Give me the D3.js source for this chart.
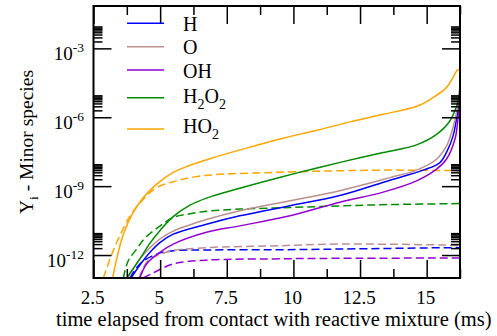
<!DOCTYPE html>
<html>
<head>
<meta charset="utf-8">
<script src="https://cdn.jsdelivr.net/npm/d3@7"></script>
<style>
  body { margin: 0; background: #fff; }
  svg text { font-family: "Liberation Serif", "DejaVu Serif", serif; fill: #000; }
</style>
</head>
<body>
<svg id="chart" width="497" height="336" style="font-family: 'Liberation Serif', 'DejaVu Serif', serif"></svg>
<script>
// minor species mass fraction vs time (ms)
// solid = one case, dashed = the other; pairs are [time, Y]
const speciesNames = ["H", "O", "OH", "H2O2", "HO2"];
const speciesColors = ["#0000ff", "#bc8f8f", "#9400d3", "#008b00", "#ffa500"];

const H_solid = [[3.91,1e-13],[4.24,3.7e-13],[4.62,1.32e-12],[4.99,3.5e-12],[5.49,8.1e-12],[6.74,2.2e-11],[7.99,5.1e-11],[9.87,1.41e-10],[11.74,3.9e-10],[13.62,1.82e-9],[14.87,5.0e-9],[15.49,1.05e-8],[15.80,4.1e-8],[15.99,1.55e-7],[16.14,1.15e-6],[16.22,4.4e-6],[16.25,5.5e-5]];
const O_solid = [[3.79,1e-13],[4.24,6.8e-13],[4.62,2.1e-12],[4.99,5.0e-12],[5.49,1.1e-11],[6.74,3.5e-11],[7.99,8.5e-11],[9.87,2.3e-10],[11.74,6.3e-10],[13.62,2.35e-9],[14.62,5.0e-9],[15.37,1.48e-8],[15.74,5.5e-8],[15.93,2.1e-7],[16.09,1.15e-6],[16.18,4.4e-6],[16.25,2.45e-5]];
const OH_solid = [[4.24,1e-13],[4.49,4.1e-13],[4.99,1.32e-12],[5.49,3.0e-12],[6.74,9.8e-12],[7.99,1.86e-11],[9.87,5.1e-11],[11.74,2.0e-10],[13.37,5.5e-10],[14.62,1.7e-9],[15.37,5.5e-9],[15.74,1.48e-8],[16.06,1.1e-7],[16.16,5.9e-7],[16.22,3.1e-6],[16.24,1.66e-5],[16.25,5.5e-4]];
const H2O2_solid = [[3.74,1e-13],[4.24,6.8e-13],[4.62,3.3e-12],[4.99,1.15e-11],[5.49,4.7e-11],[6.12,1.48e-10],[6.74,3.0e-10],[7.99,8.1e-10],[9.37,2.2e-9],[10.62,5.2e-9],[11.87,1.17e-8],[13.37,2.9e-8],[14.62,6.3e-8],[15.37,1.8e-7],[15.87,6.9e-7],[16.12,3.1e-6],[16.22,8.1e-6],[16.25,1.35e-5]];
const HO2_solid = [[3.22,1e-13],[3.37,6.8e-13],[3.62,8.1e-12],[3.99,7.2e-11],[4.37,3.2e-10],[4.87,1.23e-9],[5.49,4.0e-9],[6.12,8.1e-9],[6.99,1.74e-8],[8.37,5.0e-8],[9.61,1.23e-7],[10.88,2.7e-7],[12.12,6.3e-7],[13.36,1.35e-6],[14.63,3.0e-6],[15.23,7.1e-6],[15.74,1.95e-5],[15.99,5.4e-5],[16.14,1.1e-4],[16.20,1.17e-4],[16.25,1.0e-4]];

const H_dashed = [[3.87,1e-13],[4.24,4.1e-13],[4.87,1.1e-12],[5.49,1.55e-12],[6.74,1.66e-12],[9.24,1.7e-12],[11.74,1.82e-12],[15.87,2.1e-12],[16.25,2.1e-12]];
const O_dashed = [[4.2,1e-13],[4.5,5.0e-13],[4.87,9.3e-13],[5.49,1.55e-12],[6.74,2.1e-12],[9.24,2.5e-12],[11.74,3.0e-12],[15.87,2.7e-12],[16.25,2.6e-12]];
const OH_dashed = [[4.36,1e-13],[4.74,1.66e-13],[5.49,4.1e-13],[6.74,6.0e-13],[9.24,6.8e-13],[11.74,7.2e-13],[16.25,7.4e-13]];
const H2O2_dashed = [[3.62,1e-13],[3.80,5.5e-13],[4.12,1.82e-12],[4.43,5.5e-12],[4.99,1.82e-11],[5.49,4.3e-11],[6.12,6.3e-11],[6.74,8.1e-11],[7.99,1.0e-10],[9.87,1.17e-10],[11.74,1.38e-10],[13.62,1.58e-10],[16.25,1.74e-10]];
const HO2_dashed = [[2.87,1e-13],[3.12,6.8e-13],[3.43,5.0e-12],[3.87,5.0e-11],[4.37,2.7e-10],[4.87,8.7e-10],[5.62,1.7e-9],[6.37,2.6e-9],[7.12,3.2e-9],[9.37,4.0e-9],[11.87,4.7e-9],[13.62,5.0e-9],[16.25,4.7e-9]];

const solidSeries = [H_solid, O_solid, OH_solid, H2O2_solid, HO2_solid];
const dashedSeries = [H_dashed, O_dashed, OH_dashed, H2O2_dashed, HO2_dashed];

const xDomain = [2.5, 16.25];
const yDomain = [1e-13, 0.07];
const xMajorTicks = [2.5, 5, 7.5, 10, 12.5, 15];
const xMinorTicks = [3.75, 6.25, 8.75, 11.25, 13.75, 16.25];
const yMajorExps = [-12, -9, -6, -3];

const xTitle = "time elapsed from contact with reactive mixture (ms)";

// layout
const pL = 93.5, pR = 460, pT = 6, pB = 278;
const FONT = "'Liberation Serif', 'DejaVu Serif', serif";
const svg = d3.select("#chart");

const x = d3.scaleLinear().domain(xDomain).range([pL, pR]);
const y = d3.scaleLog().domain(yDomain).range([pB, pT]);

const yMajor = yMajorExps.map(e => Math.pow(10, e));
const yMinor = [];
yMajor.forEach(m => { for (let k = 2; k <= 9; k++) yMinor.push(m * k); });

svg.append("defs").append("clipPath").attr("id", "clip")
  .append("rect").attr("x", pL).attr("y", pT)
  .attr("width", pR - pL).attr("height", pB - pT);

// curves
const line = d3.line()
  .x(d => x(d[0]))
  .y(d => y(d[1]))
  .curve(d3.curveCatmullRom.alpha(0.5));

const plot = svg.append("g").attr("clip-path", "url(#clip)");
dashedSeries.forEach((s, i) => {
  plot.append("path").datum(s)
    .attr("d", line)
    .attr("fill", "none")
    .attr("stroke", speciesColors[i])
    .attr("stroke-width", 1.5)
    .attr("stroke-dasharray", "8,4");
});
solidSeries.forEach((s, i) => {
  plot.append("path").datum(s)
    .attr("d", line)
    .attr("fill", "none")
    .attr("stroke", speciesColors[i])
    .attr("stroke-width", 1.5);
});

// ticks on all four sides, pointing inward
function tickAxis(axisFn, scale, values, size, tx, ty) {
  const g = svg.append("g")
    .attr("transform", "translate(" + tx + "," + ty + ")")
    .call(axisFn(scale).tickValues(values).tickSize(-size).tickFormat(""));
  g.select(".domain").remove();
  g.selectAll("line").attr("stroke", "#000").attr("stroke-width", 1.5);
  return g;
}
tickAxis(d3.axisBottom, x, xMajorTicks, 18, 0, pB);
tickAxis(d3.axisBottom, x, xMinorTicks, 9, 0, pB);
tickAxis(d3.axisTop, x, xMajorTicks, 18, 0, pT);
tickAxis(d3.axisTop, x, xMinorTicks, 9, 0, pT);
tickAxis(d3.axisLeft, y, yMajor, 18, pL, 0);
tickAxis(d3.axisLeft, y, yMinor, 9, pL, 0);
tickAxis(d3.axisRight, y, yMajor, 18, pR, 0);
tickAxis(d3.axisRight, y, yMinor, 9, pR, 0);

// frame
svg.append("rect")
  .attr("x", pL).attr("y", pT)
  .attr("width", pR - pL).attr("height", pB - pT)
  .attr("fill", "none").attr("stroke", "#000").attr("stroke-width", 2);

// x tick labels
svg.append("g").selectAll("text")
  .data(xMajorTicks).enter().append("text")
  .attr("x", d => x(d) - 1)
  .attr("y", 304)
  .attr("text-anchor", "middle")
  .attr("font-family", FONT)
  .attr("font-size", 19)
  .text(d => d);

// y tick labels: 10 with superscript exponent
yMajorExps.forEach(e => {
  const t = svg.append("text")
    .attr("x", 84)
    .attr("y", y(Math.pow(10, e)) + 11.5)
    .attr("text-anchor", "end")
    .attr("font-family", FONT)
    .attr("font-size", 19);
  t.append("tspan").text("10");
  t.append("tspan").attr("font-size", 13.5).attr("dy", -8).text("-" + Math.abs(e));
});

// axis titles
svg.append("text")
  .attr("x", (pL + pR) / 2 - 3)
  .attr("y", 326)
  .attr("text-anchor", "middle")
  .attr("font-family", FONT)
  .attr("font-size", 20.5)
  .text(xTitle);

const yt = svg.append("text")
  .attr("transform", "translate(33," + ((pT + pB) / 2) + ") rotate(-90)")
  .attr("text-anchor", "middle")
  .attr("font-family", FONT)
  .attr("font-size", 19.5);
yt.append("tspan").text("Y");
yt.append("tspan").attr("font-size", 13.5).attr("dy", 5).text("i");
yt.append("tspan").attr("dy", -5).text(" - Minor species");

// legend, digits drawn as subscripts
const legendLineY = [23.3, 46.7, 70, 97.7, 129];
const legendTextY = [31, 54.3, 77.7, 103.3, 133.3];
const legend = svg.append("g");
speciesNames.forEach((n, i) => {
  legend.append("line")
    .attr("x1", 127).attr("x2", 164)
    .attr("y1", legendLineY[i]).attr("y2", legendLineY[i])
    .attr("stroke", speciesColors[i]).attr("stroke-width", 1.5);
  const t = legend.append("text")
    .attr("x", 183).attr("y", legendTextY[i])
    .attr("font-family", FONT)
    .attr("font-size", 20);
  let low = false;
  n.split(/(\d)/).filter(p => p !== "").forEach(p => {
    const isSub = /\d/.test(p);
    const sp = t.append("tspan").text(p);
    if (isSub) { sp.attr("font-size", 14).attr("dy", 6); low = true; }
    else if (low) { sp.attr("dy", -6); low = false; }
  });
});
</script>
</body>
</html>
